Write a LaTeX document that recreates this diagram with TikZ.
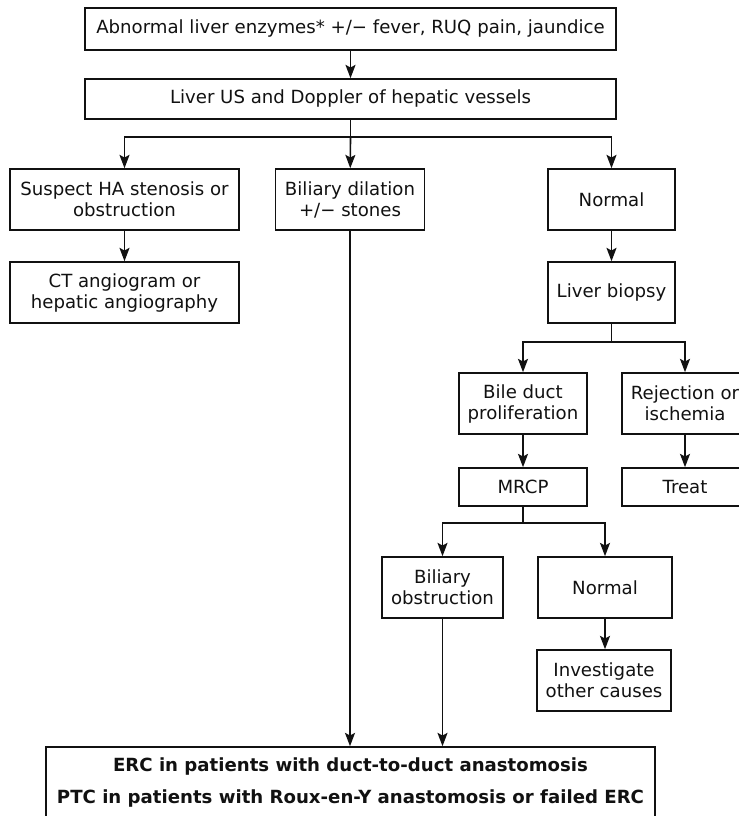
\documentclass[tikz,border=0pt]{standalone}
\usepackage{fontspec}
\setmainfont{DejaVu Sans}
\usetikzlibrary{arrows.meta,positioning}
\definecolor{Ink}{HTML}{111111}
\tikzset{flow/.style={-{Stealth[length=10pt,width=7.5pt,inset=2pt]},draw=Ink,line width=1.2pt},
  link/.style={draw=Ink,line width=1.2pt},
  boxsize/.style 2 args={minimum width=#1*0.75pt,minimum height=#2*0.75pt},
  box/.style={draw=Ink,line width=1.2pt,rectangle,inner sep=0pt,align=center,text=Ink,font=\fontsize{13.6}{15.75}\selectfont}}

\begin{document}
\begin{tikzpicture}[x=0.75pt,y=-0.75pt]
\useasboundingbox (0,0) rectangle (738,816);
% first work-up
\node[box,boxsize={531}{42}] (enzymes) at (350.5,29) {Abnormal liver enzymes* +/\char"2212{} fever, RUQ pain, jaundice};
\node[box,boxsize={531}{40}] (us) at (350.5,99) {Liver US and Doppler of hepatic vessels};
% ultrasound findings
\node[box,boxsize={229}{61}] (suspect) at (124.5,199.5) {Suspect HA stenosis or\\obstruction};
\node[box,boxsize={149}{61}] (dilation) at (350,199.5) {Biliary dilation\\+/\char"2212{} stones};
\node[box,boxsize={127}{61}] (normal) at (611.5,199.5) {Normal};
\node[box,boxsize={229}{61}] (ct) at (124.5,292.5) {CT angiogram or\\hepatic angiography};
\node[box,boxsize={127}{61}] (biopsy) at (611.5,292.5) {Liver biopsy};
% biopsy results
\node[box,boxsize={128}{61}] (bile) at (523,403.5) {Bile duct\\proliferation};
\node[box,boxsize={126}{61}] (reject) at (685,403.5) {Rejection or\\ischemia};
\node[box,boxsize={128}{38}] (mrcp) at (523,487) {MRCP};
\node[box,boxsize={126}{38}] (treat) at (685,487) {Treat};
% MRCP results
\node[box,boxsize={121}{61}] (obstr) at (442.5,587.5) {Biliary\\obstruction};
\node[box,boxsize={134}{61}] (normalb) at (605,587.5) {Normal};
\node[box,boxsize={134}{61}] (invest) at (604,680.5) {Investigate\\other causes};
\node[box,boxsize={609}{71},font=\fontsize{13.6}{24}\selectfont\bfseries] (erc) at (350.5,782.5) {ERC in patients with duct-to-duct anastomosis\\PTC in patients with Roux-en-Y anastomosis or failed ERC};
% junctions
\coordinate (j1) at (350.5,137);
\coordinate (j2) at (biopsy.south |- 0,342);
\coordinate (j3) at (523,523);
% connectors
\draw[flow] (enzymes) -- (us);
\draw[link] (us) -- (j1);
\draw[flow] (j1) -| (suspect);
\draw[flow] (j1) -- (dilation);
\draw[flow] (j1) -| (normal);
\draw[flow] (suspect) -- (ct);
\draw[flow] (normal) -- (biopsy);
\draw[link] (biopsy) -- (j2);
\draw[flow] (j2) -| (bile);
\draw[flow] (j2) -| (reject);
\draw[flow] (bile) -- (mrcp);
\draw[flow] (reject) -- (treat);
\draw[link] (mrcp) -- (j3);
\draw[flow] (j3) -| (obstr);
\draw[flow] (j3) -| (normalb);
\draw[flow] (normalb) -- (normalb |- invest.north);
\draw[flow] (dilation) -- (dilation |- erc.north);
\draw[flow] (obstr) -- (obstr |- erc.north);
\end{tikzpicture}
\end{document}
